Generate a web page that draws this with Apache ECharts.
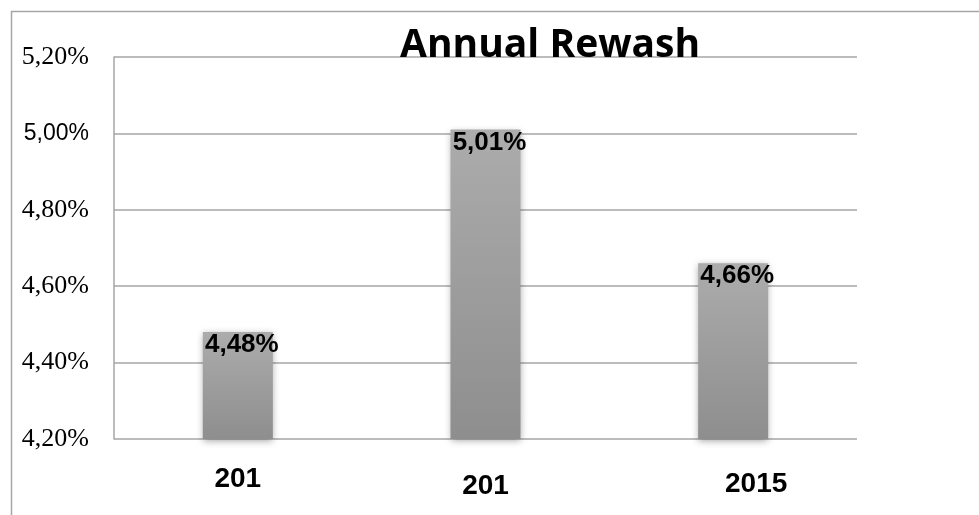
<!DOCTYPE html>
<html>
<head>
<meta charset="utf-8">
<script src="https://cdn.jsdelivr.net/npm/echarts@6/dist/echarts.min.js"></script>
<style>html,body{margin:0;padding:0;background:#fff}#c{width:979px;height:515px}</style>
</head>
<body>
<div id="c"></div>
<script>
const titleText = 'Annual Rewash';
const categories = ['201', '201', '2015'];
const values = [4.48, 5.01, 4.66];
const yMin = 4.2, yMax = 5.2, yStep = 0.2;

const fmtPct = v => v.toFixed(2).replace('.', ',') + '%';

const chart = echarts.init(document.getElementById('c'));
chart.setOption({
  animation: false,
  backgroundColor: '#fff',
  title: {
    text: titleText,
    left: 395, top: 21,
    textStyle: { fontFamily: 'Open Sans', fontWeight: 'bold', fontSize: 39, color: '#000' }
  },
  graphic: [{
    type: 'rect', left: 9, top: 9, z: -1,
    shape: { width: 1000, height: 600 },
    style: { fill: 'none', stroke: '#a6a6a6', lineWidth: 1.5 }
  }],
  grid: { left: 114, right: 122, top: 57, bottom: 76, containLabel: false },
  xAxis: {
    type: 'category',
    data: categories,
    axisLine: { show: false },
    axisTick: { show: false },
    axisLabel: {
      margin: 26,
      formatter: (v, i) => '{s' + i + '|' + v + '}',
      rich: {
        s0: { fontFamily: 'Liberation Sans', fontWeight: 'bold', fontSize: 28, color: '#000' },
        s1: { fontFamily: 'Liberation Sans', fontWeight: 'bold', fontSize: 28, color: '#000', padding: [7, 0, 0, 0] },
        s2: { fontFamily: 'Liberation Sans', fontWeight: 'bold', fontSize: 28, color: '#000', padding: [5, 0, 0, 46] }
      }
    }
  },
  yAxis: {
    type: 'value',
    min: yMin, max: yMax, interval: yStep,
    axisLine: { show: true, lineStyle: { color: '#a6a6a6', width: 1.5 } },
    axisTick: { show: false },
    splitLine: { lineStyle: { color: '#a6a6a6', width: 1.5 } },
    axisLabel: {
      margin: 25,
      formatter: v => {
        const s = fmtPct(v);
        return Math.abs(v - 5.0) < 1e-6 ? '{b|' + s + '}' : '{a|' + s + '}';
      },
      rich: {
        a: { fontFamily: 'Liberation Serif', fontSize: 26, color: '#000' },
        b: { fontFamily: 'Liberation Sans', fontSize: 23, color: '#000' }
      }
    }
  },
  series: [{
    type: 'bar',
    data: values,
    barWidth: 70,
    itemStyle: {
      color: new echarts.graphic.LinearGradient(0, 0, 0, 1, [
        { offset: 0, color: '#acacac' },
        { offset: 1, color: '#8e8e8e' }
      ]),
      shadowBlur: 7,
      shadowColor: 'rgba(0,0,0,0.35)',
      shadowOffsetY: 2
    },
    label: {
      show: true,
      position: 'insideTop',
      distance: 0,
      offset: [4, 0],
      formatter: p => fmtPct(p.value),
      fontFamily: 'Liberation Sans', fontWeight: 'bold', fontSize: 26, color: '#000'
    }
  }]
});
</script>
</body>
</html>
